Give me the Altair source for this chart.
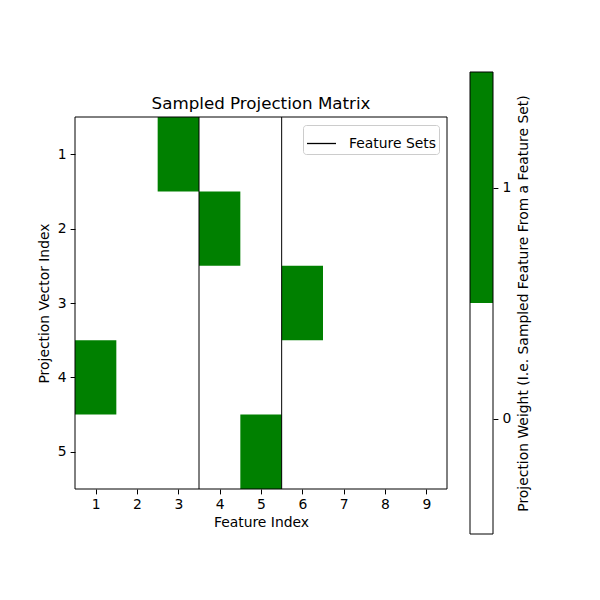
import altair as alt
import pandas as pd

rows = [1, 2, 3, 4, 5]
cols = [1, 2, 3, 4, 5, 6, 7, 8, 9]
selected_col = [3, 4, 6, 1, 5]  # sampled feature per projection vector
boundaries = [3.5, 5.5]
cbar_values = [0, 1]
green = "#008000"

cells = []
for r, sc in zip(rows, selected_col):
    for c in cols:
        cells.append({"row": r, "col": c, "x0": c - 0.5, "x1": c + 0.5,
                      "y0": r - 0.5, "y1": r + 0.5, "value": 1 if c == sc else 0})
cells = pd.DataFrame(cells)
rules_df = pd.DataFrame({"x": boundaries, "label": ["Feature Sets"] * len(boundaries)})
box_df = pd.DataFrame({"x0": [min(cols) - 0.5], "x1": [max(cols) + 0.5],
                       "y0": [min(rows) - 0.5], "y1": [max(rows) + 0.5]})
cbar_df = pd.DataFrame({"v": cbar_values, "lo": [v - 0.5 for v in cbar_values],
                        "hi": [v + 0.5 for v in cbar_values], "a": [0, 0], "b": [1, 1]})
frame_df = pd.DataFrame({"lo": [min(cbar_values) - 0.5], "hi": [max(cbar_values) + 0.5],
                         "a": [0], "b": [1]})

FONT = "DejaVu Sans"
W = H = 372

xs = alt.Scale(domain=[0.5, 9.5], nice=False, zero=False)
ys = alt.Scale(domain=[0.5, 5.5], nice=False, zero=False, reverse=True)
x_axis = alt.Axis(values=cols, title="Feature Index", format="d", domain=False)
y_axis = alt.Axis(values=rows, title="Projection Vector Index", format="d", domain=False,
                  titlePadding=6)

heat = alt.Chart(cells).transform_filter("datum.value == 1").mark_rect(
    stroke=None, fill=green
).encode(
    x=alt.X("x0:Q", scale=xs, axis=x_axis),
    x2="x1:Q",
    y=alt.Y("y0:Q", scale=ys, axis=y_axis),
    y2="y1:Q",
)

rules = alt.Chart(rules_df).mark_rule(strokeWidth=1).encode(
    x=alt.X("x:Q", scale=xs, axis=x_axis),
    stroke=alt.Stroke("label:N", scale=alt.Scale(range=["black"]),
                      legend=alt.Legend(title=None, orient="none", legendX=228, legendY=8,
                                        symbolType="stroke", symbolSize=841, symbolStrokeWidth=1.3,
                                        labelFontSize=13.9, labelFont=FONT, labelColor="black",
                                        strokeColor="#cccccc", fillColor="white", cornerRadius=3,
                                        padding=3, labelOffset=12)),
)

box = alt.Chart(box_df).mark_rect(fillOpacity=0, stroke="black", strokeWidth=1).encode(
    x=alt.X("x0:Q", scale=xs, axis=x_axis),
    x2="x1:Q",
    y=alt.Y("y0:Q", scale=ys, axis=y_axis),
    y2="y1:Q",
)

main = alt.layer(heat, rules, box)

cx = alt.Scale(domain=[0, 1], range=[395, 418], nice=False, zero=False)
cy = alt.Scale(domain=[-0.5, 1.5], range=[417, -45], nice=False, zero=False)
cy_axis = alt.Axis(orient="right", offset=46, values=cbar_values, format="d",
                   title="Projection Weight (I.e. Sampled Feature From a Feature Set)",
                   domain=False, titlePadding=6, titleAngle=270, titleBaseline="top")

cbar = alt.Chart(cbar_df).mark_rect().encode(
    x=alt.X("a:Q", scale=cx, axis=None),
    x2="b:Q",
    y=alt.Y("lo:Q", scale=cy, axis=cy_axis),
    y2="hi:Q",
    fill=alt.Fill("v:N", scale=alt.Scale(domain=[0, 1], range=["white", green]), legend=None),
)

cframe = alt.Chart(frame_df).mark_rect(fillOpacity=0, stroke="black", strokeWidth=1).encode(
    x=alt.X("a:Q", scale=cx, axis=None),
    x2="b:Q",
    y=alt.Y("lo:Q", scale=cy, axis=cy_axis),
    y2="hi:Q",
)

colorbar = alt.layer(cbar, cframe)

chart = alt.layer(main, colorbar).resolve_scale(
    x="independent", y="independent", fill="independent", stroke="independent"
).resolve_axis(x="independent", y="independent").properties(
    width=W, height=H,
    title=alt.TitleParams("Sampled Projection Matrix", fontSize=16.7, font=FONT,
                          fontWeight="normal", anchor="middle", offset=-41, color="black",
                          frame="group"),
    autosize=alt.AutoSizeParams(type="none"),
    padding={"left": 75, "top": 117, "right": 153, "bottom": 111},
    background="white",
).configure_view(stroke=None).configure_axis(
    labelFont=FONT, titleFont=FONT, labelFontSize=13.9, titleFontSize=13.9,
    titleFontWeight="normal", labelColor="black", titleColor="black",
    domainColor="black", tickColor="black", tickSize=4.9, labelPadding=4,
    grid=False, labelAngle=0,
)

chart.save("out.html", embed_options={"renderer": "svg", "actions": False})
